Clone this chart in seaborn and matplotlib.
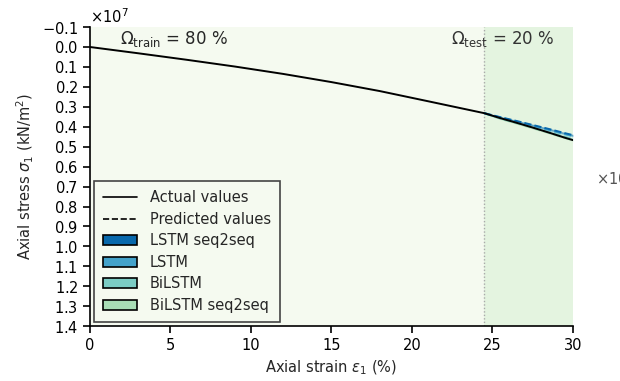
import numpy as np
import pandas as pd
import matplotlib
matplotlib.use("Agg")
import matplotlib.pyplot as plt
import seaborn as sns
from matplotlib.patches import Patch
from matplotlib.lines import Line2D

# ---- data (stress in kN/m^2) ----
strain_actual = [0, 3, 6, 9, 12, 15, 18, 21, 24.5, 25.5, 26.5, 27.5, 28.5, 29.5, 30]
stress_actual = [0.0, 0.0315, 0.064, 0.098, 0.135, 0.176, 0.221, 0.272, 0.332,
                 0.357, 0.380, 0.404, 0.429, 0.455, 0.467]
strain_test = [24.5, 25.5, 26.5, 27.5, 28.5, 29.5, 30]
pred_lstm_s2s = [0.332, 0.352, 0.371, 0.391, 0.411, 0.432, 0.442]
pred_lstm = [0.332, 0.354, 0.374, 0.395, 0.416, 0.437, 0.447]
pred_bilstm = [0.332, 0.358, 0.380, 0.403, 0.426, 0.450, 0.461]
pred_bilstm_s2s = [0.332, 0.360, 0.383, 0.407, 0.431, 0.456, 0.468]
models = ["LSTM seq2seq", "LSTM", "BiLSTM", "BiLSTM seq2seq"]
model_colors = ["#0868ac", "#43a2ca", "#7bccc4", "#a8ddb5"]
split = 24.5
scale = 1e7

sns.set_style("ticks")
plt.rcParams["font.family"] = ["DejaVu Sans"]
plt.rcParams["mathtext.fontset"] = "dejavusans"
plt.rcParams["font.size"] = 10.5

fig = plt.figure(figsize=(6.2, 3.81), dpi=100)
ax = fig.add_axes([0.145, 0.144, 0.779, 0.785])

ax.axvspan(0, split, color="#f5faf0", zorder=0, lw=0)
ax.axvspan(split, 30, color="#e4f4e0", zorder=0, lw=0)
ax.axvline(split, color="#aaaaaa", ls=(0, (1, 1.5)), lw=1, zorder=1)

df_act = pd.DataFrame({"x": strain_actual, "y": np.array(stress_actual) * scale})
preds = [pred_lstm_s2s, pred_lstm, pred_bilstm, pred_bilstm_s2s]
for name, col, p in zip(models[::-1], model_colors[::-1], preds[::-1]):
    d = pd.DataFrame({"x": strain_test, "y": np.array(p) * scale})
    ax.fill_between(d["x"], d["y"] - 0.004 * scale, d["y"] + 0.004 * scale,
                    color=col, alpha=0.5, lw=0, zorder=2)
    sns.lineplot(data=d, x="x", y="y", ax=ax, color=col, ls="--", lw=1.4, zorder=3)
sns.lineplot(data=df_act, x="x", y="y", ax=ax, color="black", lw=1.4, zorder=4)

ax.set_xlim(0, 30)
ax.set_ylim(1.4 * scale, -0.1 * scale)
ax.set_xticks([0, 5, 10, 15, 20, 25, 30])
ax.set_yticks(np.round(np.arange(-0.1, 1.41, 0.1), 1) * scale)
fmt = matplotlib.ticker.ScalarFormatter(useMathText=True)
fmt.set_powerlimits((0, 0))
ax.yaxis.set_major_formatter(fmt)
ax.set_xlabel(r"Axial strain $\varepsilon_1$ (%)")
ax.set_ylabel(r"Axial stress $\sigma_1$ (kN/m$^2$)")
sns.despine(ax=ax)
ax.tick_params(direction="out", length=5, width=1.2, colors="black")
for s in ["left", "bottom"]:
    ax.spines[s].set_linewidth(1.2)
    ax.spines[s].set_color("black")

ax.text(1.85, -0.04 * scale, r"$\Omega_{\mathrm{train}}$ = 80 %", fontsize=12, va="center")
ax.text(25.65, -0.04 * scale, r"$\Omega_{\mathrm{test}}$ = 20 %", fontsize=12,
        va="center", ha="center", color="#333333")

handles = [Line2D([], [], color="black", lw=1.2, label="Actual values"),
           Line2D([], [], color="black", lw=1.2, ls="--", label="Predicted values")]
for name, col in zip(models, model_colors):
    handles.append(Patch(facecolor=col, edgecolor="black", lw=1.2, label=name))
leg = ax.legend(handles=handles, loc="lower left", bbox_to_anchor=(0.0, 0.0),
                borderaxespad=0.3,
                fancybox=False, edgecolor="#444444", framealpha=1,
                facecolor="#f5faf0", fontsize=10.5, handlelength=2.3,
                borderpad=0.6, labelspacing=0.45, handletextpad=0.9)
leg.get_frame().set_linewidth(1.2)

fig.text(0.962, 0.515, r"$\times10^{7}$", fontsize=10.5, color="#555555")

fig.savefig("out.png", dpi=100)
